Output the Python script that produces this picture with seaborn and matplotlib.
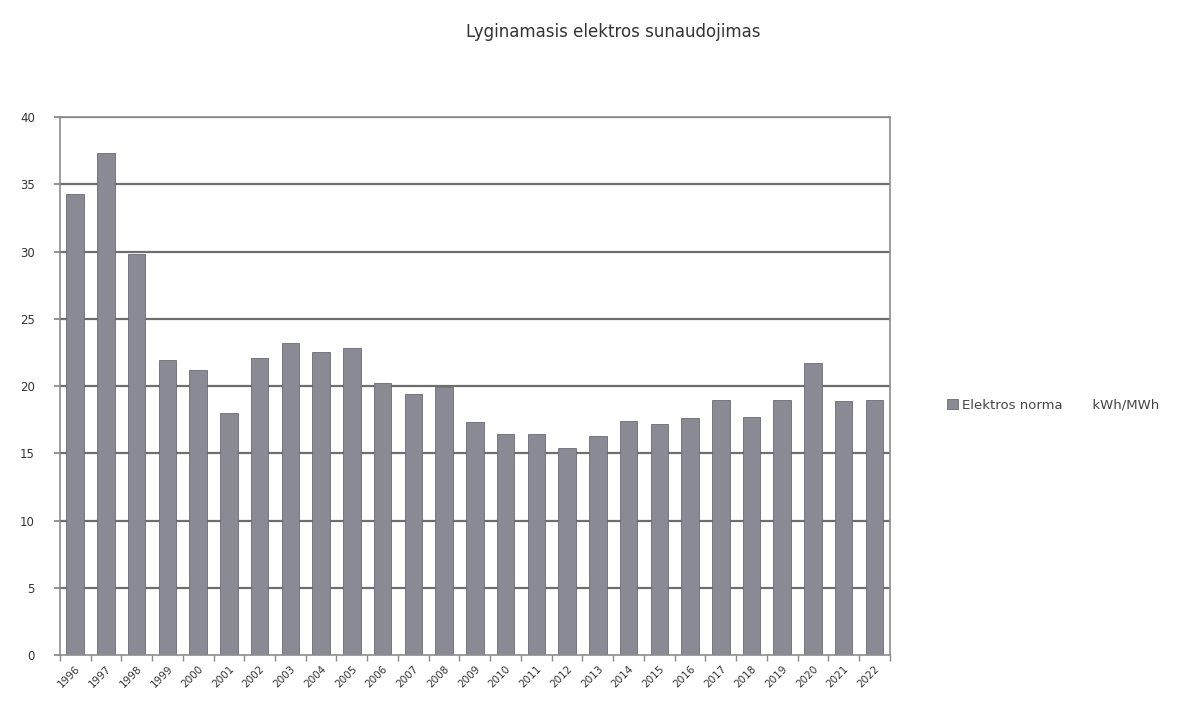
import matplotlib
matplotlib.use("Agg")
import matplotlib.pyplot as plt
import numpy as np
import pandas as pd
import seaborn as sns

# data
years = [str(y) for y in range(1996, 2023)]
elektros_norma = [34.3, 37.3, 29.8, 21.9, 21.2, 18.0, 22.1, 23.2, 22.5, 22.8,
                  20.2, 19.4, 19.9, 17.3, 16.4, 16.4, 15.4, 16.3, 17.4, 17.2,
                  17.6, 19.0, 17.7, 19.0, 21.7, 18.9, 19.0]
y_ticks = [0, 5, 10, 15, 20, 25, 30, 35, 40]

df = pd.DataFrame({"metai": years, "norma": elektros_norma})

sns.set_theme(style="white")
plt.rcParams['font.family'] = ['DejaVu Sans']

fig = plt.figure(figsize=(11.96, 7.09), dpi=100)
ax = fig.add_axes([0.050, 0.076, 0.694, 0.759])

# horizontal grid behind the bars
for v in y_ticks[1:]:
    ax.axhline(v, color="#6e6e6e", lw=1.6, zorder=0)

sns.barplot(data=df, x="metai", y="norma", color="#8a8a94", saturation=1,
            width=0.57, edgecolor="#6a6a72", linewidth=0.6,
            label="Elektros norma       kWh/MWh", ax=ax, zorder=2)

ax.set_ylim(0, 40)
ax.set_xlim(-0.5, len(years) - 0.5)
ax.set_yticks(y_ticks)
ax.set_yticklabels([str(v) for v in y_ticks], fontsize=8.5, color="#333333")
ax.set_xticks(range(len(years)))
ax.set_xticklabels(years, rotation=45, ha="right", rotation_mode="anchor",
                   fontsize=7.5, color="#333333")
ax.tick_params(axis="x", length=0, pad=6)
ax.tick_params(axis="y", length=4, color="#888888", left=True, pad=14)
ax.set_xticks(np.arange(len(years) + 1) - 0.5, minor=True)
ax.tick_params(axis="x", which="minor", length=4, color="#888888", bottom=True)
ax.set_xlabel("")
ax.set_ylabel("")

for side in ax.spines.values():
    side.set_color("#8c8c8c")
    side.set_linewidth(1.2)

ax.legend(loc="center left", bbox_to_anchor=(1.055, 0.465), frameon=False,
          fontsize=9.5, handlelength=0.8, handleheight=0.8, handletextpad=0.3,
          labelcolor="#444444")

fig.text(0.513, 0.955, "Lyginamasis elektros sunaudojimas", ha="center",
         va="center", fontsize=12, color="#333333")

fig.savefig("out.png", dpi=100)
